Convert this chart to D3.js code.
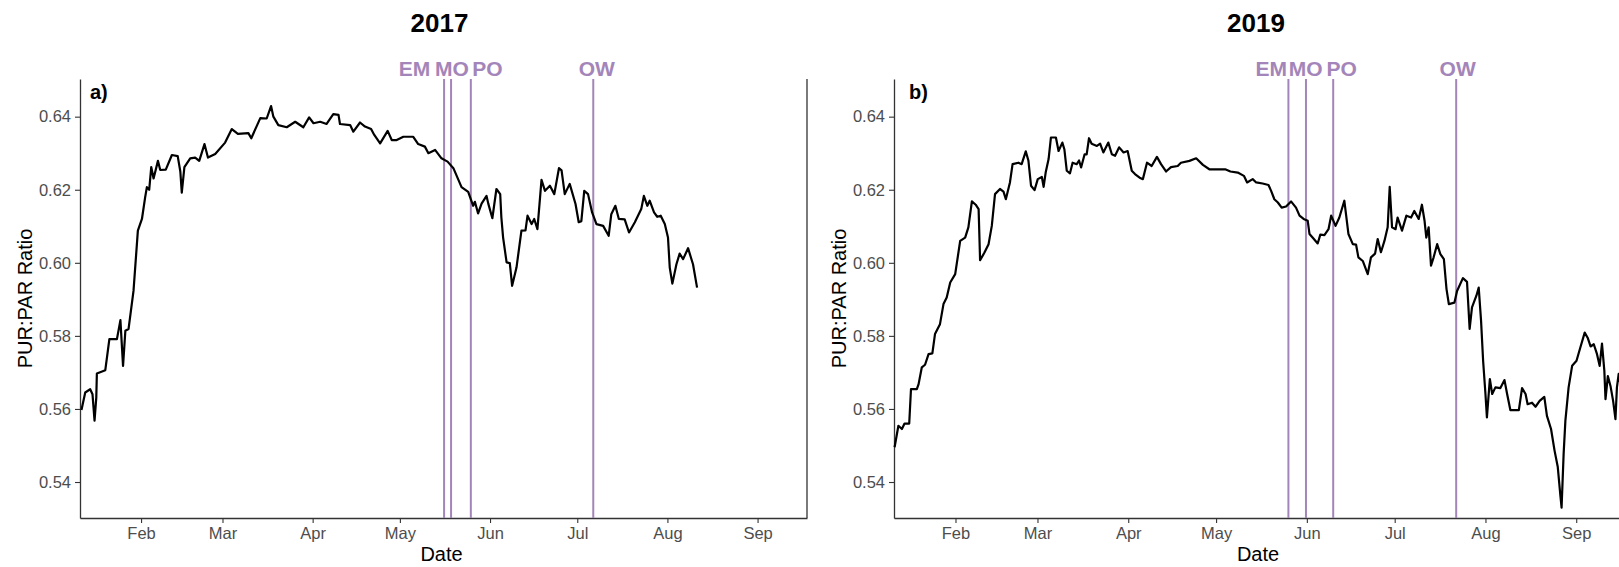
<!DOCTYPE html>
<html>
<head>
<meta charset="utf-8">
<script src="https://cdn.jsdelivr.net/npm/d3@7"></script>
<style>
  body { margin: 0; background: #fff; }
  text { font-family: "Liberation Sans", Arial, sans-serif; }
</style>
</head>
<body>
<div id="chart"></div>
<script>
// day of year and PUR:PAR ratio
const days2017 = [11.5,12.8,14.5,15.3,16.0,16.6,16.8,19.7,21.1,23.7,24.9,25.8,26.6,27.7,29.4,30.9,32.3,33.4,34.0,34.8,
  35.5,36.3,37.8,38.6,40.5,42.6,44.6,45.5,46.0,46.9,48.9,50.6,52.0,53.8,55.0,57.5,60.9,63.2,65.3,68.9,
  69.9,73.0,75.2,76.7,77.5,79.2,82.1,85.0,87.8,89.8,91.3,93.6,95.8,98.1,99.9,100.4,103.9,105.0,107.3,109.0,
  111.1,112.2,114.2,116.8,118.2,119.9,122.2,125.6,127.3,129.6,130.8,133.1,135.3,137.4,139.4,142.2,144.5,146.2,146.8,147.9,
  149.1,150.8,151.4,152.8,154.2,155.5,155.9,156.5,157.7,158.8,159.6,161.1,162.8,164.2,164.9,166.3,167.2,168.3,169.7,170.9,
  172.6,174.1,175.7,176.6,177.7,179.4,181.4,182.5,183.4,184.4,185.7,187.1,188.6,190.9,192.8,193.7,195.1,196.3,198.3,199.8,
  201.8,204.0,204.9,206.1,206.9,208.4,209.5,210.7,212.1,213.2,213.8,214.7,216.1,217.2,218.4,220.1,221.8,223.2];
const ratio2017 = [.5597,.5645,.5654,.5640,.5568,.5631,.5697,.5706,.5791,.5791,.5843,.5718,.5814,.5819,.5923,.6088,.6120,.6179,.6207,.6200,
  .6262,.6231,.6279,.6254,.6255,.6295,.6292,.6250,.6192,.6262,.6286,.6288,.6279,.6325,.6288,.6298,.6329,.6366,.6353,.6355,
  .6341,.6396,.6395,.6429,.6400,.6377,.6371,.6386,.6371,.6398,.6382,.6386,.6380,.6407,.6405,.6380,.6377,.6359,.6384,.6373,
  .6366,.6350,.6327,.6361,.6336,.6336,.6345,.6345,.6325,.6318,.6300,.6309,.6286,.6277,.6259,.6207,.6194,.6156,.6167,.6135,
  .6162,.6183,.6162,.6122,.6202,.6188,.6124,.6069,.6001,.5999,.5937,.5987,.6088,.6089,.6129,.6106,.6120,.6092,.6227,.6197,
  .6211,.6188,.6259,.6253,.6188,.6216,.6161,.6111,.6114,.6197,.6188,.6138,.6106,.6101,.6074,.6133,.6156,.6120,.6119,.6083,
  .6111,.6147,.6183,.6156,.6170,.6138,.6126,.6129,.6106,.6069,.5987,.5943,.5996,.6025,.6010,.6040,.5996,.5932];

const days2019 = [11.2,12.5,13.7,14.6,16.2,16.8,18.8,19.4,20.5,21.6,22.8,24.1,25.0,26.7,27.9,29.0,30.2,31.9,33.6,35.3,
  36.4,37.6,38.9,39.9,40.4,41.9,43.3,44.4,45.5,47.2,48.4,49.2,50.6,51.5,53.5,54.6,56.0,56.9,57.8,59.0,
  60.1,61.5,62.1,62.8,63.8,64.6,66.3,67.2,68.5,69.2,70.0,71.1,72.0,73.4,74.2,74.9,76.1,76.8,77.6,78.5,
  80.3,81.4,82.5,84.2,85.4,86.5,87.9,89.4,90.8,92.2,93.3,94.9,96.0,97.4,99.0,100.8,102.2,103.9,105.6,107.9,
  109.0,111.9,114.2,116.5,118.7,121.6,124.1,125.9,128.4,130.5,131.6,133.5,134.7,136.9,138.9,139.8,140.9,142.1,143.4,144.9,
  146.6,148.3,149.5,150.9,152.3,152.9,154.4,155.7,156.6,158.0,159.4,160.3,161.8,163.1,164.8,166.2,167.7,168.8,169.6,171.1,
  172.8,173.9,175.3,176.2,177.3,178.5,179.6,180.3,181.1,182.3,183.0,184.5,186.0,187.6,188.7,190.2,191.3,192.2,192.8,193.6,
  194.4,195.3,196.5,197.6,198.8,199.7,200.5,202.4,203.3,205.3,206.7,207.6,208.4,209.9,210.7,211.5,212.2,213.0,213.5,214.5,
  215.3,216.4,218.1,219.5,220.4,221.5,224.4,225.5,226.7,227.4,228.9,230.1,231.5,233.1,234.0,235.4,236.6,237.7,238.6,239.0,
  239.7,240.3,241.4,242.6,244.1,245.4,246.9,247.9,248.9,250.0,251.1,252.0,252.8,253.6,254.0,254.8,255.7,256.6,257.4,257.9,
  258.5,259.3,260.2];
const ratio2019 = [.5495,.5554,.5545,.5560,.5560,.5654,.5654,.5668,.5714,.5721,.5750,.5752,.5805,.5832,.5887,.5905,.5946,.5969,.6060,.6069,
  .6097,.6168,.6159,.6147,.6007,.6028,.6051,.6101,.6188,.6202,.6195,.6174,.6220,.6270,.6274,.6270,.6305,.6280,.6211,.6199,
  .6229,.6235,.6208,.6247,.6284,.6343,.6343,.6306,.6329,.6310,.6252,.6245,.6274,.6270,.6280,.6261,.6297,.6297,.6341,.6326,
  .6320,.6326,.6302,.6329,.6297,.6293,.6316,.6302,.6306,.6252,.6243,.6233,.6229,.6274,.6265,.6290,.6270,.6250,.6262,.6265,
  .6274,.6279,.6286,.6268,.6256,.6256,.6256,.6250,.6247,.6238,.6220,.6229,.6220,.6217,.6213,.6197,.6174,.6165,.6151,.6154,
  .6168,.6151,.6129,.6120,.6115,.6079,.6065,.6053,.6077,.6076,.6092,.6129,.6101,.6124,.6170,.6079,.6051,.6050,.6015,.6005,
  .5969,.6015,.6025,.6065,.6029,.6060,.6097,.6208,.6097,.6092,.6124,.6088,.6129,.6124,.6142,.6120,.6159,.6115,.6069,.6097,
  .5992,.6015,.6051,.6024,.6010,.5928,.5887,.5891,.5923,.5958,.5948,.5819,.5878,.5910,.5932,.5841,.5732,.5641,.5577,.5682,
  .5641,.5659,.5657,.5679,.5641,.5597,.5597,.5657,.5641,.5613,.5617,.5606,.5622,.5633,.5581,.5545,.5486,.5441,.5362,.5330,
  .5477,.5568,.5659,.5718,.5732,.5768,.5809,.5795,.5771,.5777,.5750,.5718,.5779,.5705,.5627,.5690,.5663,.5622,.5572,.5659,
  .5696,.5660,.5640];

// phenology events: line day and label day
const eventNames = ["EM", "MO", "PO", "OW"];
const events2017 = [136.2, 138.6, 145.4, 187.5];
const labelDays2017 = [126.0, 138.9, 151.1, 188.7];
const events2019 = [145.7, 151.7, 161.0, 203.0];
const labelDays2019 = [139.8, 151.6, 163.9, 203.5];

const yTicks = [0.54, 0.56, 0.58, 0.60, 0.62, 0.64];
const yDomain = [0.53015, 0.65031];
const dayDomain = [11, 261];

const W = 1619, H = 567;
const plotTop = 79, plotBottom = 518;
const purple = "#A485B9";

const svg = d3.select("#chart").append("svg")
  .attr("width", W)
  .attr("height", H);

function toDate(year, doy) {
  return new Date(new Date(year, 0, 1).getTime() + (doy - 1) * 864e5);
}

const panels = [
  {year: 2017, tag: "a)", days: days2017, vals: ratio2017, ev: events2017, lab: labelDays2017, x0: 80, x1: 807, tagDx: 10},
  {year: 2019, tag: "b)", days: days2019, vals: ratio2019, ev: events2019, lab: labelDays2019, x0: 894, x1: 1626, tagDx: 15}
];

const y = d3.scaleLinear().domain(yDomain).range([plotBottom, plotTop]);

panels.forEach(function(p) {
  const x = d3.scaleTime()
    .domain(dayDomain.map(d => toDate(p.year, d)))
    .range([p.x0, p.x1]);
  const g = svg.append("g");
  const mid = (p.x0 + p.x1) / 2;

  // title
  g.append("text")
    .attr("x", mid - 4).attr("y", 31.5)
    .attr("text-anchor", "middle")
    .style("font-size", "26px").style("font-weight", "bold")
    .text(p.year);

  // x axis
  const xAxis = d3.axisBottom(x)
    .ticks(d3.timeMonth.every(1))
    .tickFormat(d3.timeFormat("%b"))
    .tickSize(5).tickSizeOuter(0).tickPadding(4);
  const gx = g.append("g").attr("transform", "translate(0," + plotBottom + ")").call(xAxis);
  gx.select(".domain").attr("stroke", "#333").attr("stroke-width", 1.3);
  gx.selectAll(".tick line").attr("stroke", "#333").attr("stroke-width", 1.1);
  gx.selectAll(".tick text").attr("fill", "#4D4D4D").style("font-size", "16.5px");

  // y axis
  const yAxis = d3.axisLeft(y)
    .tickValues(yTicks)
    .tickFormat(d3.format(".2f"))
    .tickSize(5).tickSizeOuter(0).tickPadding(4);
  const gy = g.append("g").attr("transform", "translate(" + p.x0 + ",0)").call(yAxis);
  gy.select(".domain").attr("stroke", "#333").attr("stroke-width", 1.3);
  gy.selectAll(".tick line").attr("stroke", "#333").attr("stroke-width", 1.1);
  gy.selectAll(".tick text").attr("fill", "#4D4D4D").style("font-size", "16.5px");

  // right border
  g.append("line")
    .attr("x1", p.x1).attr("x2", p.x1)
    .attr("y1", plotTop).attr("y2", plotBottom)
    .attr("stroke", "#333").attr("stroke-width", 1.3);

  // axis titles
  g.append("text")
    .attr("x", mid - 2).attr("y", 561)
    .attr("text-anchor", "middle")
    .style("font-size", "20px")
    .text("Date");
  g.append("text")
    .attr("transform", "translate(" + (p.x0 - 48.5) + "," + ((plotTop + plotBottom) / 2) + ") rotate(-90)")
    .attr("text-anchor", "middle")
    .style("font-size", "20px")
    .text("PUR:PAR Ratio");

  // panel tag
  g.append("text")
    .attr("x", p.x0 + p.tagDx).attr("y", 99)
    .style("font-size", "20px").style("font-weight", "bold")
    .text(p.tag);

  // event lines and labels
  g.selectAll(".ev")
    .data(p.ev)
    .enter().append("line")
    .attr("class", "ev")
    .attr("x1", d => x(toDate(p.year, d))).attr("x2", d => x(toDate(p.year, d)))
    .attr("y1", plotTop).attr("y2", plotBottom)
    .attr("stroke", purple).attr("stroke-width", 2);
  g.selectAll(".evlab")
    .data(p.lab)
    .enter().append("text")
    .attr("class", "evlab")
    .attr("x", d => x(toDate(p.year, d)))
    .attr("y", 75.5)
    .attr("text-anchor", "middle")
    .attr("fill", purple)
    .style("font-size", "21px").style("font-weight", "bold")
    .text((d, i) => eventNames[i]);

  // ratio line
  const line = d3.line()
    .x((d, i) => x(toDate(p.year, p.days[i])))
    .y((d, i) => y(p.vals[i]));
  g.append("path")
    .datum(p.vals)
    .attr("fill", "none")
    .attr("stroke", "#000")
    .attr("stroke-width", 2.2)
    .attr("stroke-linejoin", "round")
    .attr("d", line);
});
</script>
</body>
</html>
